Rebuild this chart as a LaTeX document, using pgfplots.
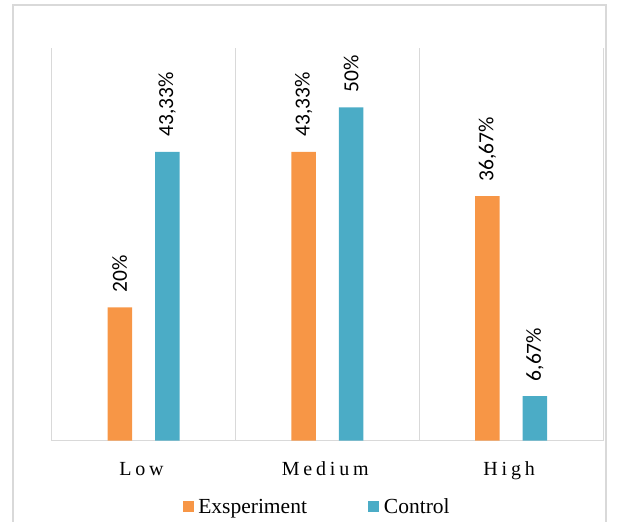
\documentclass[border=0pt]{standalone}
\usepackage{fontspec}
\setmainfont{Liberation Serif}
\newfontfamily\catfont[LetterSpace=19]{Liberation Serif}
\newfontfamily\labfont{Carlito}
\usepackage{pgfplots}
\pgfplotsset{compat=1.18}
\definecolor{orangeE}{HTML}{F79646}
\definecolor{blueC}{HTML}{4BACC6}
\definecolor{gridg}{RGB}{217,217,217}
\begin{document}
\begin{tikzpicture}[x=1bp,y=1bp]
\useasboundingbox (0,0) rectangle (621,522);
\draw[gridg, line width=1.5bp] (13,-5) -- (13,517) -- (606,517) -- (606,-5);
\begin{axis}[
 at={(51.6bp,81.3bp)}, anchor=south west,
 scale only axis, width=551.4bp, height=392.7bp,
 xmin=-0.5, xmax=2.5, ymin=0, ymax=58.9,
 ybar=23bp, bar width=24.5bp,
 axis line style={draw=none},
 xtick={0,1,2}, xticklabels={Low,Medium,High},
 major tick length=0pt, minor tick length=0pt,
 minor xtick={-0.5,0.5,1.5,2.5},
 xminorgrids=true, minor grid style={gridg, line width=1bp},
 ytick=\empty,
 extra y ticks={0}, extra y tick labels={},
 extra y tick style={grid=major, major grid style={gridg, line width=1bp}},
 xticklabel style={font=\catfont\fontsize{20bp}{22bp}\selectfont, anchor=base, yshift=-35bp, xshift=-2bp},
 nodes near coords, point meta=explicit symbolic,
 every node near coord/.append style={rotate=90, anchor=west, inner sep=0pt, outer xsep=15bp, font=\labfont\fontsize{21.5bp}{23bp}\selectfont, text=black},
 legend style={at={(0.484,-0.168)}, anchor=center, legend columns=2, draw=none, fill=none,
   font=\fontsize{21.5bp}{23bp}\selectfont,
   /tikz/every even column/.append style={column sep=57bp},
   nodes={inner xsep=4.5bp, inner ysep=2bp}},
 legend image code/.code={\fill[#1] (0bp,-5.5bp) rectangle (11bp,5.5bp);},
]
\addplot[fill=orangeE, draw=none] coordinates {(0,20) [20\%] (1,43.33) [43,33\%] (2,36.67) [36,67\%]};
\addplot[fill=blueC, draw=none] coordinates {(0,43.33) [43,33\%] (1,50) [50\%] (2,6.67) [6,67\%]};
\legend{Exsperiment, Control}
\end{axis}
\end{tikzpicture}
\end{document}
